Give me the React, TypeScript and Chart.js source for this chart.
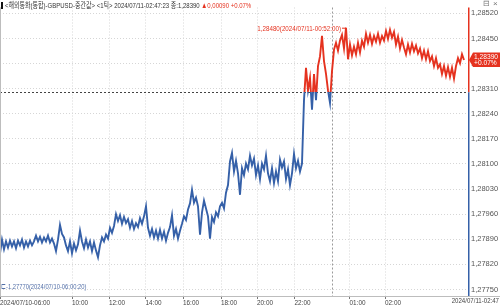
import React, { useEffect, useRef } from "react";
import { Chart, registerables } from "chart.js";

Chart.register(...registerables);

// Tick-by-tick GBPUSD mid price, in units of 0.00001 (one sample per tick group)
const pricePips: number[] = [
  127851, 127889, 127862, 127884, 127867, 127886, 127870, 127884, 127865, 127886,
  127873, 127889, 127867, 127884, 127870, 127886, 127873, 127884, 127900, 127884,
  127897, 127881, 127895, 127884, 127900, 127881, 127892, 127878, 127857, 127889,
  127930, 127905, 127895, 127873, 127857, 127884, 127851, 127878, 127859, 127876,
  127914, 127884, 127865, 127889, 127867, 127884, 127857, 127881, 127859, 127840,
  127873, 127895, 127884, 127903, 127892, 127922, 127908, 127927, 127960, 127941,
  127957, 127933, 127952, 127935, 127946, 127922, 127941, 127919, 127935, 127924,
  127949, 127933, 127954, 127982, 127922, 127900, 127919, 127895, 127914, 127892,
  127916, 127892, 127911, 127886, 127908, 127924, 127957, 127900, 127919, 127892,
  127914, 127933, 127954, 127944, 127973, 127990, 128028, 127992, 128006, 127982,
  127903, 127965, 127998, 127976, 127954, 127892, 127952, 127938, 127965, 127954,
  127982, 127992, 127976, 128020, 128041, 128107, 128131, 128079, 128109, 128074,
  128014, 128088, 128069, 128101, 128085, 128123, 128096, 128115, 128069, 128096,
  128058, 128101, 128085, 128123, 128074, 128052, 128088, 128047, 128079, 128052,
  128112, 128090, 128107, 128058, 128085, 128041, 128074, 128128, 128088, 128109,
  128079, 128101, 128278, 128368, 128305, 128340, 128251, 128351, 128278, 128373,
  128400, 128457, 128387, 128351, 128305, 128270, 128359, 128419, 128438, 128416,
  128444, 128460, 128422, 128480, 128392, 128433, 128403, 128427, 128406, 128438,
  128411, 128444, 128427, 128463, 128438, 128460, 128435, 128457, 128441, 128463,
  128438, 128457, 128444, 128471, 128449, 128474, 128452, 128468, 128433, 128455,
  128422, 128446, 128425, 128406, 128433, 128411, 128435, 128414, 128430, 128408,
  128422, 128395, 128416, 128392, 128414, 128387, 128400, 128373, 128395, 128368,
  128378, 128351, 128373, 128346, 128370, 128343, 128368, 128338, 128373, 128395,
  128381, 128406, 128390,
];

const prevClose = 1.283;
const lastPrice = 1.2839;
const change = "0,00090";
const changePct = "+0.07%";
const maxPrice = 1.2848;
const maxIndex = 173;
const maxTime = "2024/07/11-00:52:00";
const minPrice = 1.2777;
const minTime = "2024/07/10-06:00:20";
const dayBreakIndex = 166;

const yTickValues: number[] = [
  1.2775, 1.2782, 1.2789, 1.2796, 1.2803, 1.281, 1.2817, 1.2824, 1.2831, 1.2838,
  1.2845, 1.2852,
];
const xTickIndex: number[] = [0, 36, 54.5, 72.75, 91.5, 110.5, 128.5, 147.25, 174.75, 192.5];
const xTickLabels: string[] = [
  "2024/07/10-06:00", "10:00", "12:00", "14:00", "16:00", "18:00", "20:00", "22:00",
  "01:00", "02:00",
];
const lastTimeLabel = "2024/07/11-02:47";
const titleText = "<해외통화(통합)-GBPUSD-중간값> <1틱> 2024/07/11-02:47:23 종:1,28390";

const RED = "#e5321f";
const BLUE = "#3560a8";
const FONT = '"Liberation Sans", "Noto Sans CJK KR", sans-serif';

const fmt = (v: number) => v.toFixed(5).replace(".", ",");

function drawText(
  ctx: CanvasRenderingContext2D,
  text: string,
  x: number,
  y: number,
  size: number,
  hs: number,
  align: CanvasTextAlign,
  color: string
) {
  ctx.save();
  ctx.font = `${size}px ${FONT}`;
  ctx.textBaseline = "middle";
  ctx.textAlign = align;
  ctx.fillStyle = color;
  ctx.translate(x, y);
  ctx.scale(hs, 1);
  ctx.fillText(text, 0, 0);
  ctx.restore();
}

const overlayPlugin = {
  id: "overlay",
  beforeDatasetsDraw(chart: any) {
    const { ctx, chartArea, scales } = chart;
    const yRef = Math.round(scales.y.getPixelForValue(prevClose)) + 0.5;
    const xDay = Math.round(scales.x.getPixelForValue(dayBreakIndex)) + 0.5;
    ctx.save();
    ctx.lineWidth = 1;
    ctx.setLineDash([2, 2]);
    ctx.strokeStyle = "#9a9a9a";
    ctx.beginPath();
    ctx.moveTo(xDay, chartArea.top);
    ctx.lineTo(xDay, chartArea.bottom);
    ctx.stroke();
    ctx.strokeStyle = "#444";
    ctx.beginPath();
    ctx.moveTo(chartArea.left, yRef);
    ctx.lineTo(chartArea.right, yRef);
    ctx.stroke();
    ctx.restore();
  },
  afterDraw(chart: any) {
    const { ctx, chartArea, scales, width } = chart;
    const yRef = scales.y.getPixelForValue(prevClose);
    const ax = chartArea.right + 0.75;
    ctx.save();
    // frame lines
    ctx.strokeStyle = "#bdbdbd";
    ctx.lineWidth = 1;
    ctx.beginPath();
    ctx.moveTo(0.5, chartArea.top);
    ctx.lineTo(0.5, chartArea.bottom);
    ctx.moveTo(0, chartArea.bottom + 0.5);
    ctx.lineTo(width, chartArea.bottom + 0.5);
    ctx.stroke();
    // coloured value axis
    ctx.lineWidth = 1.5;
    ctx.strokeStyle = RED;
    ctx.beginPath();
    ctx.moveTo(ax, chartArea.top);
    ctx.lineTo(ax, yRef);
    ctx.stroke();
    ctx.strokeStyle = BLUE;
    ctx.beginPath();
    ctx.moveTo(ax, yRef);
    ctx.lineTo(ax, chartArea.bottom);
    ctx.stroke();

    // title
    ctx.fillStyle = "#111";
    ctx.fillRect(1, 2, 2, 7);
    const hsT = 0.75;
    drawText(ctx, titleText, 5, 5.5, 8, hsT, "left", "#333");
    ctx.font = `8px ${FONT}`;
    const tx = 5 + ctx.measureText(titleText + " ").width * hsT;
    drawText(ctx, "▲" + change + " " + changePct, tx, 5.5, 8, hsT, "left", RED);

    // top-right icons
    drawText(ctx, "⊟", 483, 4, 8, 1, "left", "#777");
    drawText(ctx, "×", 493, 4, 8, 1, "left", "#777");

    // max marker
    const mx = scales.x.getPixelForValue(maxIndex);
    const my = scales.y.getPixelForValue(maxPrice);
    drawText(ctx, `${fmt(maxPrice)}(${maxTime})`, mx - 5, my + 1.5, 7, 0.89, "right", RED);
    ctx.strokeStyle = RED;
    ctx.lineWidth = 1;
    ctx.beginPath();
    ctx.moveTo(mx - 4, my + 0.5);
    ctx.lineTo(mx, my + 0.5);
    ctx.stroke();

    // min marker
    drawText(ctx, `⊏-${fmt(minPrice)}(${minTime})`, 1, 287, 7, 0.83, "left", "#5470a8");

    // current price box
    const cy = scales.y.getPixelForValue(lastPrice);
    const bx = chartArea.right + 1;
    ctx.fillStyle = RED;
    ctx.beginPath();
    ctx.moveTo(bx, cy);
    ctx.lineTo(bx + 4, cy - 7.5);
    ctx.lineTo(width, cy - 7.5);
    ctx.lineTo(width, cy + 7);
    ctx.lineTo(bx + 4, cy + 7);
    ctx.closePath();
    ctx.fill();
    drawText(ctx, fmt(lastPrice), bx + 5, cy - 3.3, 7, 0.95, "left", "#fff");
    drawText(ctx, changePct, bx + 5, cy + 3.3, 7, 0.95, "left", "#fff");

    // last time label
    drawText(ctx, lastTimeLabel, width - 1, chartArea.bottom + 5.5, 7, 0.87, "right", "#444");
    ctx.restore();
  },
};

export default function App() {
  const ref = useRef<HTMLCanvasElement | null>(null);
  useEffect(() => {
    if (!ref.current) return;
    const points = pricePips.map((p, i) => ({ x: i, y: p / 100000 }));
    const chart = new Chart(ref.current, {
      type: "line",
      data: {
        datasets: [
          {
            data: points,
            borderWidth: 1.9,
            pointRadius: 0,
            tension: 0,
            borderJoinStyle: "miter",
            borderColor: (c: any) => {
              const ch = c.chart;
              const area = ch.chartArea;
              if (!area) return BLUE;
              const yRef = ch.scales.y.getPixelForValue(prevClose);
              const g = ch.ctx.createLinearGradient(0, area.top, 0, area.bottom);
              const f = Math.min(1, Math.max(0, (yRef - area.top) / (area.bottom - area.top)));
              g.addColorStop(0, RED);
              g.addColorStop(f, RED);
              g.addColorStop(f, BLUE);
              g.addColorStop(1, BLUE);
              return g;
            },
          },
        ],
      },
      options: {
        animation: false,
        responsive: true,
        maintainAspectRatio: false,
        layout: { padding: 0 },
        plugins: { legend: { display: false }, tooltip: { enabled: false } },
        scales: {
          x: {
            type: "linear",
            min: 0,
            max: 234,
            afterBuildTicks: (s: any) => {
              s.ticks = xTickIndex.map((v) => ({ value: v }));
            },
            afterFit: (s: any) => {
              s.height = 11;
            },
            ticks: {
              autoSkip: false,
              maxRotation: 0,
              minRotation: 0,
              align: "start",
              padding: 0,
              color: "#444",
              font: { family: FONT, size: 6.4 },
              callback: (v: any) => {
                const k = xTickIndex.indexOf(Number(v));
                return k >= 0 ? xTickLabels[k] : "";
              },
            },
            grid: { color: "#d6d6d6", tickLength: 3, tickColor: "#777" },
            border: { display: false, dash: [1, 2] },
          },
          y: {
            position: "right",
            min: 1.277318,
            max: 1.285363,
            afterBuildTicks: (s: any) => {
              s.ticks = yTickValues.map((v) => ({ value: v }));
            },
            afterFit: (s: any) => {
              s.width = 32;
            },
            ticks: {
              padding: 3,
              color: "#555",
              font: { family: FONT, size: 7.5 },
              callback: (v: any) => fmt(Number(v)),
            },
            grid: { color: "#d6d6d6", drawTicks: false },
            border: { display: false, dash: [1, 2] },
          },
        },
      },
      plugins: [overlayPlugin],
    });
    return () => chart.destroy();
  }, []);
  return (
    <div style={{ position: "fixed", left: 0, top: 0, width: 500, height: 307, background: "#fff" }}>
      <canvas ref={ref} />
    </div>
  );
}
